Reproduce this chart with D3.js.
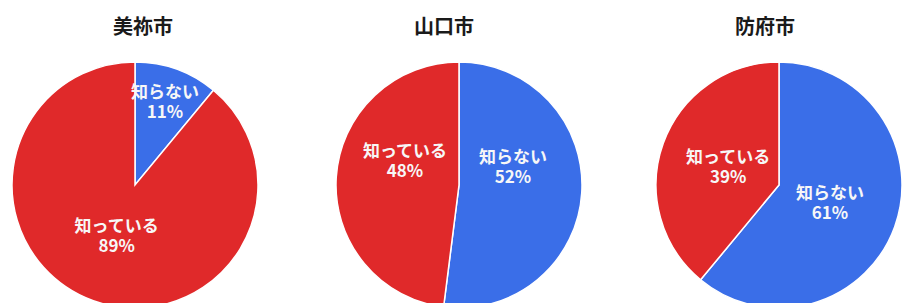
<!DOCTYPE html>
<html><head><meta charset="utf-8">
<script src="https://cdn.jsdelivr.net/npm/d3@7"></script>
<style>
html,body{margin:0;padding:0;background:#fff;overflow:hidden;}
svg{display:block;}
</style></head>
<body>
<svg id="chart" width="909" height="303"></svg>
<script>
// ---- data ----
const cities = ["美祢市", "山口市", "防府市"];
const categories = ["知らない", "知っている"];
const unknownPct = [11, 52, 61];
const knownPct = [89, 48, 39];

// ---- layout (not data) ----
const W = 909, H = 303;
const R = 123;
const pieCY = 185;
const pieCX = [135, 459, 779];
const titleCX = [143, 444, 765];
const labelDY = [0, -21, 0];
const colors = {"知らない": "#3a6ee8", "知っている": "#e0292a"};
const font = "'Noto Sans CJK JP', 'Noto Sans', sans-serif";

const svg = d3.select("#chart");
const pie = d3.pie().sort(null).value(d => d.value);
const arc = d3.arc().innerRadius(0).outerRadius(R);

cities.forEach((city, i) => {
  const data = [
    {cat: categories[0], value: unknownPct[i]},
    {cat: categories[1], value: knownPct[i]}
  ];
  const g = svg.append("g").attr("transform", `translate(${pieCX[i]},${pieCY})`);
  const arcs = pie(data);
  g.selectAll("path").data(arcs).join("path")
    .attr("d", arc)
    .attr("fill", d => colors[d.data.cat])
    .attr("stroke", "#ffffff")
    .attr("stroke-width", 1.5);

  arcs.forEach(a => {
    const frac = (a.endAngle - a.startAngle) / (2 * Math.PI);
    const lr = frac < 0.2 ? R * 0.72 : R * 0.44;
    const [x, y] = d3.arc().innerRadius(lr).outerRadius(lr).centroid(a);
    const lines = [a.data.cat, a.data.value + "%"];
    lines.forEach((s, k) => {
      g.append("text")
        .attr("x", x)
        .attr("y", y + labelDY[i] + (k === 0 ? -10 : 10))
        .attr("dy", "0.35em")
        .attr("text-anchor", "middle")
        .attr("fill", "#f7f7f7")
        .attr("font-family", font)
        .attr("font-weight", "bold")
        .attr("font-size", 17)
        .text(s);
    });
  });

  svg.append("text")
    .attr("x", titleCX[i]).attr("y", 34)
    .attr("text-anchor", "middle")
    .attr("fill", "#1a1a1a")
    .attr("font-family", font)
    .attr("font-weight", "bold")
    .attr("font-size", 20)
    .text(city);
});
</script>
</body></html>
